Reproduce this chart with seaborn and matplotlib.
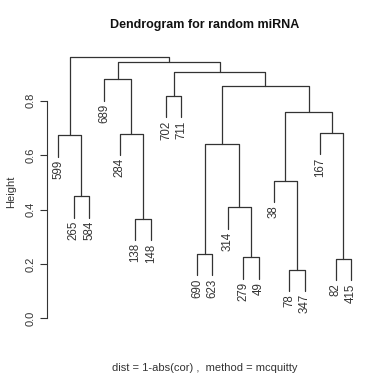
import matplotlib
matplotlib.use("Agg")
import matplotlib.pyplot as plt
import numpy as np
import pandas as pd
import seaborn as sns

# leaf labels in plotted order
labels = ["599", "265", "584", "689", "284", "138", "148", "702", "711", "690",
          "623", "314", "279", "49", "38", "78", "347", "167", "82", "415"]

# R-style merge table: negative = leaf (1-based, plot order), positive = earlier merge
merge_a = [-16, -19, -13, -10, -6, -12, -2, -15, 4, -1, -5, -18, 8, -8, 9, -4, 14, 16, 10]
merge_b = [-17, -20, -14, -11, -7, 3, -3, 1, 6, 7, 5, 2, 12, -9, 13, 11, 15, 17, 18]
heights = [0.179, 0.218, 0.224, 0.237, 0.366, 0.408, 0.448, 0.506, 0.640, 0.673,
           0.679, 0.682, 0.760, 0.817, 0.854, 0.879, 0.904, 0.942, 0.962]

hang = 0.1 * (max(heights) - min(heights))
ink = "#333333"

sns.set_style("white")
plt.rcParams["font.family"] = ["Liberation Sans", "DejaVu Sans"]

fig = plt.figure(figsize=(3.85, 3.84), dpi=100)
ax = fig.add_axes([0.1213, 0.1427, 0.8203, 0.7154])

# build segments
rows = []
node_x = {}
leaf_parent_h = {}
seg = 0
for i, (a, b, h) in enumerate(zip(merge_a, merge_b, heights), start=1):
    pts = []
    for c in (a, b):
        if c < 0:
            cx = -c - 1
            cy = h - hang
            leaf_parent_h[cx] = h
        else:
            cx, cy = node_x[c]
        pts.append((cx, cy))
    (xa, ya), (xb, yb) = pts
    for px, py in [(xa, ya), (xa, h), (xb, h), (xb, yb)]:
        rows.append({"seg": seg, "x": px, "y": py})
    seg += 1
    node_x[i] = ((xa + xb) / 2, h)

df = pd.DataFrame(rows)
sns.lineplot(data=df, x="x", y="y", units="seg", estimator=None, sort=False,
             color=ink, linewidth=0.9, ax=ax)

for idx, lab in enumerate(labels):
    y_end = leaf_parent_h[idx] - hang
    ax.text(idx, y_end - 0.012, lab, rotation=90, ha="center", va="top",
            fontsize=8.3, color=ink)

ax.set_xlim(-0.75, 19.75)
ax.set_ylim(-0.04, 0.97)
ax.set_xticks([])
ax.set_yticks([0.0, 0.2, 0.4, 0.6, 0.8])
ax.set_yticklabels(["0.0", "0.2", "0.4", "0.6", "0.8"], rotation=90, va="center",
                   fontsize=8, color=ink)
ax.tick_params(axis="y", direction="out", length=5, width=0.8, color=ink, pad=3, left=True)
for s in ["top", "right", "bottom"]:
    ax.spines[s].set_visible(False)
ax.spines["left"].set_bounds(0, 0.8)
ax.spines["left"].set_color(ink)
ax.spines["left"].set_linewidth(0.8)
ax.set_xlabel("")
ax.set_ylabel("Height", fontsize=8, color=ink, labelpad=7)

fig.text(0.532, 0.935, "Dendrogram for random miRNA", ha="center", va="center",
         fontsize=9, fontweight="bold", color="#111111")
fig.text(0.532, 0.042, "dist = 1-abs(cor) ,  method = mcquitty", ha="center",
         va="center", fontsize=8, color=ink)

fig.savefig("out.png", dpi=100)
